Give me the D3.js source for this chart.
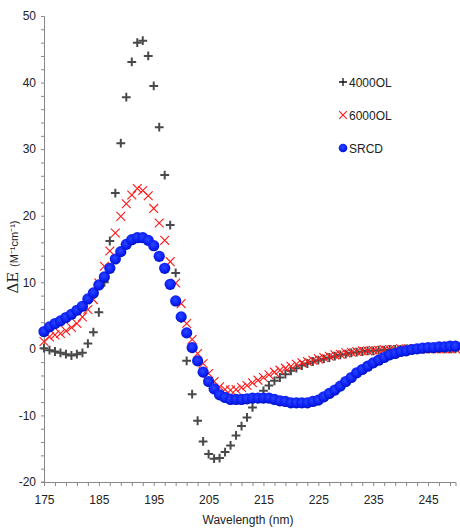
<!DOCTYPE html>
<html>
<head>
<meta charset="utf-8">
<script src="https://cdn.jsdelivr.net/npm/d3@7"></script>
<style>
  body { margin: 0; background: #fff; }
  svg { display: block; }
  .tick text { font-family: "Liberation Sans Narrow", "Liberation Sans", sans-serif; font-size: 12px; fill: #222; }
</style>
</head>
<body>
<svg id="chart" width="460" height="528"></svg>
<script>
// wavelength 175..250 nm, one reading per nm
const WAVELENGTHS = d3.range(175, 251);

const SERIES_NAMES = ["4000OL", "6000OL", "SRCD"];

const VALUES_4000 = [
  0.1, -0.2, -0.4, -0.6, -0.8, -1.0, -0.8, -0.6, 0.8, 2.5,
  5.5, 10.0, 16.2, 23.4, 30.9, 37.8, 43.1, 46.0, 46.3, 44.0,
  39.5, 33.3, 26.1, 18.6, 11.4, 4.6, -1.8, -6.8, -10.8, -13.9,
  -15.8, -16.5, -16.4, -15.5, -14.5, -13.0, -11.6, -10.3, -8.8, -7.4,
  -6.3, -5.5, -4.8, -4.3, -3.8, -3.3, -2.9, -2.5, -2.2, -1.9,
  -1.7, -1.5, -1.3, -1.1, -0.9, -0.8, -0.6, -0.5, -0.4, -0.3,
  -0.3, -0.2, -0.2, -0.1, -0.1, -0.1, 0.0, 0.0, 0.0, 0.0,
  0.0, 0.0, 0.0, 0.0, 0.0, 0.0
];

const VALUES_6000 = [
  1.1, 1.8, 2.1, 2.3, 2.7, 3.2, 3.8, 4.8, 5.9, 7.4,
  9.9, 12.4, 14.7, 17.4, 19.9, 21.8, 23.1, 24.1, 23.8, 23.0,
  21.1, 18.9, 16.3, 13.1, 9.9, 6.8, 3.8, 1.4, -0.7, -2.2,
  -3.7, -4.9, -5.7, -6.1, -6.2, -6.1, -5.8, -5.5, -5.1, -4.7,
  -4.3, -3.9, -3.5, -3.2, -2.9, -2.6, -2.3, -2.1, -1.9, -1.7,
  -1.5, -1.3, -1.1, -0.9, -0.8, -0.6, -0.5, -0.4, -0.3, -0.3,
  -0.2, -0.2, -0.1, -0.1, -0.1, 0.0, 0.0, 0.0, 0.0, 0.0,
  0.0, 0.0, 0.0, 0.0, 0.0, 0.0
];

const VALUES_SRCD = [
  2.6, 3.3, 3.8, 4.2, 4.7, 5.2, 5.8, 6.4, 7.5, 8.4,
  9.6, 10.8, 12.1, 13.5, 14.6, 15.7, 16.4, 16.7, 16.7, 16.3,
  15.5, 13.9, 12.1, 9.7, 7.2, 4.8, 2.4, 0.2, -1.8, -3.5,
  -4.9, -6.0, -6.9, -7.3, -7.6, -7.6, -7.6, -7.5, -7.4, -7.4,
  -7.4, -7.4, -7.6, -7.8, -7.9, -8.1, -8.1, -8.1, -8.1, -7.9,
  -7.7, -7.2, -6.7, -6.2, -5.6, -4.9, -4.3, -3.6, -3.1, -2.6,
  -2.1, -1.7, -1.3, -0.9, -0.7, -0.4, -0.3, -0.1, 0.0, 0.1,
  0.2, 0.2, 0.3, 0.3, 0.4, 0.4
];

const X_TICK_LABELS = [175, 185, 195, 205, 215, 225, 235, 245];
const Y_TICK_LABELS = [-20, -10, 0, 10, 20, 30, 40, 50];

const svg = d3.select("#chart");

const x = d3.scaleLinear().domain([175, 250]).range([44, 455.5]);
const y = d3.scaleLinear().domain([-20, 50]).range([482, 16]);

const defs = svg.append("defs");
const grad = defs.append("radialGradient").attr("id", "blueDot")
  .attr("cx", "45%").attr("cy", "40%").attr("r", "60%");
grad.append("stop").attr("offset", "0%").attr("stop-color", "#2a46ff");
grad.append("stop").attr("offset", "70%").attr("stop-color", "#0a1ef5");
grad.append("stop").attr("offset", "100%").attr("stop-color", "#0010b8");
defs.append("filter").attr("id", "soft")
  .append("feGaussianBlur").attr("stdDeviation", 0.45);

// axes
const xAxis = svg.append("g")
  .attr("transform", `translate(0,${y(-20)})`)
  .call(d3.axisBottom(x).tickValues(d3.range(175, 251, 2)).tickSize(4).tickFormat(""));
xAxis.append("line").attr("x1", 41).attr("x2", x(175)).attr("stroke", "#888");
svg.append("g")
  .attr("transform", `translate(0,${y(-20)})`)
  .call(d3.axisBottom(x).tickValues(X_TICK_LABELS).tickSize(0).tickPadding(13).tickFormat(d => d))
  .call(g => g.select(".domain").remove());

svg.append("g")
  .attr("transform", `translate(${x(175)},0)`)
  .call(d3.axisLeft(y).tickValues(d3.range(-20, 51, 2)).tickSize(3).tickFormat(""));
svg.append("g")
  .attr("transform", `translate(${x(175)},0)`)
  .call(d3.axisLeft(y).tickValues(Y_TICK_LABELS).tickSize(0).tickPadding(8).tickFormat(d => d))
  .call(g => g.select(".domain").remove());

svg.selectAll(".domain, .tick line").attr("stroke", "#888");

// axis titles
svg.append("text")
  .attr("x", 248).attr("y", 524)
  .attr("text-anchor", "middle")
  .style("font-family", "'Liberation Sans Narrow', 'Liberation Sans', sans-serif")
  .style("font-size", "12px").style("fill", "#222")
  .text("Wavelength (nm)");

const yTitle = svg.append("text")
  .attr("transform", "translate(18,257) rotate(-90)")
  .attr("text-anchor", "middle")
  .style("fill", "#222");
yTitle.append("tspan")
  .style("font-family", "'DejaVu Serif', 'Liberation Serif', serif")
  .style("font-size", "15px")
  .text("ΔE ");
yTitle.append("tspan")
  .style("font-family", "'Liberation Sans', sans-serif")
  .style("font-size", "11px")
  .text("(M⁻¹cm⁻¹)");

// marker shapes
const plusPath = s => `M${-s},0H${s}M0,${-s}V${s}`;
const crossPath = s => `M${-s},${-s}L${s},${s}M${-s},${s}L${s},${-s}`;

const plot = svg.append("g");

plot.append("g").attr("filter", "url(#soft)")
  .selectAll("path")
  .data(WAVELENGTHS.map((w, i) => [w, VALUES_4000[i]]))
  .join("path")
  .attr("transform", d => `translate(${x(d[0])},${y(d[1])})`)
  .attr("d", plusPath(4.4))
  .attr("stroke", "#4a4a4a").attr("stroke-width", 2).attr("fill", "none");

plot.append("g").attr("filter", "url(#soft)")
  .selectAll("path")
  .data(WAVELENGTHS.map((w, i) => [w, VALUES_6000[i]]))
  .join("path")
  .attr("transform", d => `translate(${x(d[0])},${y(d[1])})`)
  .attr("d", crossPath(4.4))
  .attr("stroke", "#ff1a1a").attr("stroke-width", 1.1).attr("fill", "none");

plot.append("g").attr("filter", "url(#soft)")
  .selectAll("circle")
  .data(WAVELENGTHS.map((w, i) => [w, VALUES_SRCD[i]]))
  .join("circle")
  .attr("cx", d => x(d[0]))
  .attr("cy", d => y(d[1]))
  .attr("r", 5.6)
  .attr("fill", "url(#blueDot)");

// legend
const legend = svg.append("g");
const legendY = d3.scalePoint().domain(SERIES_NAMES).range([82, 148]);
const lg = legend.selectAll("g").data(SERIES_NAMES).join("g")
  .attr("transform", d => `translate(343,${legendY(d)})`);
lg.filter(d => d === "4000OL").append("path")
  .attr("d", plusPath(4)).attr("stroke", "#111").attr("stroke-width", 1.3);
lg.filter(d => d === "6000OL").append("path")
  .attr("d", crossPath(3.8)).attr("stroke", "#ff1a1a").attr("stroke-width", 1.1);
lg.filter(d => d === "SRCD").append("circle")
  .attr("r", 4.3).attr("fill", "url(#blueDot)");
lg.append("text")
  .attr("x", 6).attr("y", 4.5)
  .style("font-family", "'Liberation Sans Narrow', 'Liberation Sans', sans-serif")
  .style("font-size", "12px").style("fill", "#222")
  .text(d => d);
</script>
</body>
</html>
